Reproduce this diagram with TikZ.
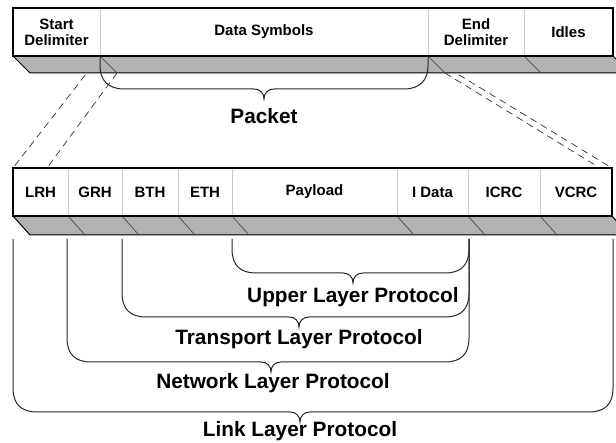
\documentclass[tikz,border=0pt]{standalone}
\usepackage{fontspec}
\setmainfont{Liberation Sans}
\usetikzlibrary{positioning}
\definecolor{shade}{RGB}{178,178,178}
\definecolor{sep}{RGB}{200,200,200}

\begin{document}
\begin{tikzpicture}[x=1pt,y=-1pt]
\tikzstyle{cell}=[fill=white,inner sep=0pt,outer sep=0pt,minimum height=48pt,align=center,font=\fontsize{15}{16}\selectfont\bfseries]
\tikzstyle{layer}=[inner sep=0pt,anchor=base,font=\fontsize{20.8}{22}\selectfont\bfseries]
\tikzstyle{bar}=[fill=shade,draw=black,line width=1pt]
\tikzstyle{slant}=[draw=black!75,line width=0.6pt]
\tikzstyle{wall}=[draw=sep,line width=1pt]
\tikzstyle{link}=[dash pattern=on 7pt off 5pt,line width=0.7pt,black!80]
\tikzstyle{brace}=[line width=1pt,black!85]
\useasboundingbox (0,0) rectangle (616,443);

%packet row
\node[cell,anchor=north west,minimum width=87pt] (start) at (13,8) {Start\\Delimiter};
\node[cell,right=0pt of start,minimum width=328pt] (data) {Data Symbols};
\node[cell,right=0pt of data,minimum width=96pt] (enddel) {End\\Delimiter};
\node[cell,right=0pt of enddel,minimum width=89pt] (idles) {Idles};

%header row
\node[cell,anchor=north west,minimum width=55pt] (lrh) at (13,168) {LRH};
\node[cell,right=0pt of lrh,minimum width=54pt] (grh) {GRH};
\node[cell,right=0pt of grh,minimum width=56pt] (bth) {BTH};
\node[cell,right=0pt of bth,minimum width=54pt] (eth) {ETH};
\node[cell,right=0pt of eth,minimum width=165pt] (payload) {Payload};
\node[cell,right=0pt of payload,minimum width=71pt] (idata) {I Data};
\node[cell,right=0pt of idata,minimum width=72pt] (icrc) {ICRC};
\node[cell,right=0pt of icrc,minimum width=72pt] (vcrc) {VCRC};

%dashed zoom lines
\draw[link] (data.south west) -- (lrh.north west);
\draw[link] ([shift={(17,17)}]data.south west) -- ([xshift=34pt]lrh.north west);
\draw[link] (enddel.south west) -- (vcrc.north east);
\draw[link] ([shift={(17,17)}]enddel.south west) -- ([xshift=-12pt]vcrc.north east);

%shadows
\draw[bar] (start.south west) -- (idles.south east) -- ++(17,17) -- ([shift={(17,17)}]start.south west) -- cycle;
\draw[bar] (lrh.south west) -- (vcrc.south east) -- ++(17,19) -- ([shift={(17,19)}]lrh.south west) -- cycle;
\foreach \c in {start,data,enddel}{
\draw[wall] (\c.north east) -- (\c.south east);
\draw[slant] (\c.south east) -- ++(17,17);
}
\foreach \c in {lrh,grh,bth,eth,payload,idata,icrc}{
\draw[wall] (\c.north east) -- (\c.south east);
\draw[slant] (\c.south east) -- ++(17,19);
}
\draw[line width=1.2pt] (start.north west) rectangle (idles.south east);
\draw[line width=1.2pt] (lrh.north west) rectangle (vcrc.south east);

%braces
\draw[brace] (100,56) -- (100,66) .. controls (100,80) and (108,89) .. (124,89) -- (254,89) .. controls (260,89) and (264,93) .. (264,99) .. controls (264,93) and (268,89) .. (274,89) -- (404,89) .. controls (420,89) and (428,80) .. (428,66) -- (428,56);
\draw[brace] (232,239) -- (232,249) .. controls (232,265) and (240,273) .. (256,273) -- (343,273) .. controls (349,273) and (353,277) .. (353,283) .. controls (353,277) and (357,273) .. (363,273) -- (445,273) .. controls (461,273) and (469,265) .. (469,249) -- (469,239);
\draw[brace] (122,239) -- (122,293) .. controls (122,309) and (130,317) .. (146,317) -- (289,317) .. controls (295,317) and (299,321) .. (299,327) .. controls (299,321) and (303,317) .. (309,317) -- (445,317) .. controls (461,317) and (469,309) .. (469,293) -- (469,239);
\draw[brace] (67,239) -- (67,338) .. controls (67,354) and (75,362) .. (91,362) -- (261,362) .. controls (267,362) and (271,366) .. (271,372) .. controls (271,366) and (275,362) .. (281,362) -- (445,362) .. controls (461,362) and (469,354) .. (469,338) -- (469,239);
\draw[brace] (13,239) -- (13,388) .. controls (13,404) and (21,412) .. (37,412) -- (290,412) .. controls (296,412) and (300,416) .. (300,422) .. controls (300,416) and (304,412) .. (310,412) -- (589,412) .. controls (605,412) and (613,404) .. (613,388) -- (613,239);

%labels
\node[layer] (packet) at (264,124) {Packet};
\node[layer] (upper) at (353,303) {Upper Layer Protocol};
\node[layer] (transport) at (299,345) {Transport Layer Protocol};
\node[layer] (network) at (273,389) {Network Layer Protocol};
\node[layer] (linklayer) at (300,437) {Link Layer Protocol};
\end{tikzpicture}
\end{document}
